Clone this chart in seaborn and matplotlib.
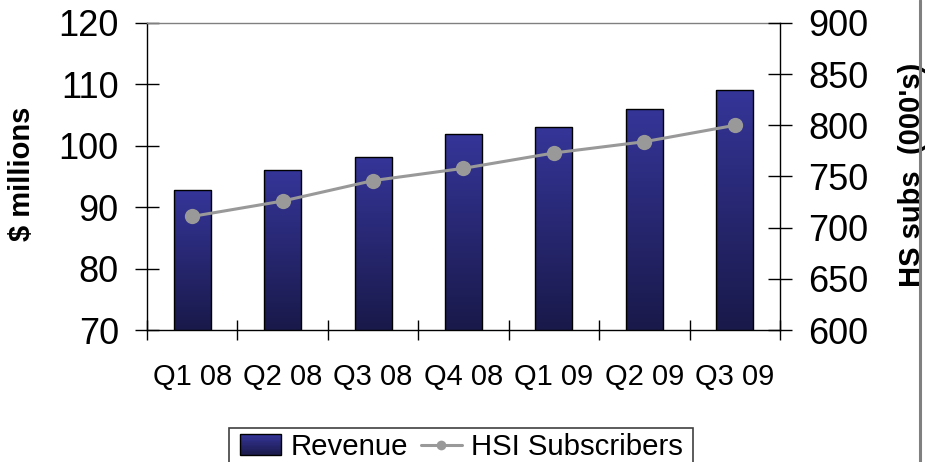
import numpy as np
import pandas as pd
import matplotlib
matplotlib.use("Agg")
import matplotlib.pyplot as plt
import seaborn as sns
from matplotlib.patches import Rectangle
from matplotlib.legend_handler import HandlerBase
from matplotlib.lines import Line2D
from matplotlib.colors import to_rgb

quarters = ["Q1 08", "Q2 08", "Q3 08", "Q4 08", "Q1 09", "Q2 09", "Q3 09"]
revenue = [92.8, 96.1, 98.2, 101.9, 103.0, 106.0, 109.1]
subscribers = [711, 726, 746, 758, 773, 784, 800]
left_ticks = [70, 80, 90, 100, 110, 120]
right_ticks = [600, 650, 700, 750, 800, 850, 900]

sns.set_style("white")
plt.rcParams["font.family"] = ["Liberation Sans", "DejaVu Sans"]
plt.rcParams["text.color"] = "black"
plt.rcParams["xtick.color"] = "black"
plt.rcParams["ytick.color"] = "black"

top_c = np.array(to_rgb("#353599"))
bot_c = np.array(to_rgb("#19194a"))

W, H = 928, 462
fig = plt.figure(figsize=(W / 100, H / 100), dpi=100)
ax = fig.add_axes([147 / W, 1 - 330 / H, (780 - 147) / W, (330 - 23) / H])

df = pd.DataFrame({"quarter": quarters, "revenue": revenue})
sns.barplot(data=df, x="quarter", y="revenue", ax=ax, width=0.41,
            color="#2a2a80", edgecolor="black", linewidth=1.0, saturation=1)

t = np.linspace(0, 1, 256)[:, None]
grad = (bot_c + (top_c - bot_c) * t)[:, None, :]
for p in list(ax.patches):
    x0, w, h = p.get_x(), p.get_width(), p.get_height()
    im = ax.imshow(grad, extent=[x0, x0 + w, left_ticks[0], h], origin="lower",
                   aspect="auto", zorder=1, interpolation="bilinear")
    im.set_clip_path(p)
    p.set_facecolor("none")
    p.set_zorder(2)

ax.set_xlim(-0.5, len(quarters) - 0.5)
ax.set_ylim(left_ticks[0], left_ticks[-1])
ax.set_xlabel("")
ax.set_ylabel("")
ax.set_xticks(np.arange(-0.5, len(quarters), 1))
ax.set_xticklabels([])
ax.set_xticks(np.arange(len(quarters)), minor=True)
ax.set_xticklabels(quarters, minor=True)
ax.tick_params(axis="x", which="major", bottom=True, direction="inout",
               length=14.4, width=1, labelbottom=False)
ax.tick_params(axis="x", which="minor", bottom=True, length=0, pad=24, labelsize=21)
ax.set_yticks(left_ticks)
ax.tick_params(axis="y", left=True, direction="inout", length=16.6, width=1,
               pad=12, labelsize=26)

ax2 = ax.twinx()
sns.lineplot(x=np.arange(len(quarters)), y=subscribers, ax=ax2, color="#999999",
             marker="o", markersize=11, markeredgewidth=0, linewidth=2.2, legend=False)
ax2.set_xlim(-0.5, len(quarters) - 0.5)
ax2.set_ylim(right_ticks[0], right_ticks[-1])
ax2.set_yticks(right_ticks)
ax2.set_ylabel("")
ax2.tick_params(axis="y", right=True, direction="inout", length=16.6, width=1,
                pad=12, labelsize=26)

for s in ["left", "bottom"]:
    ax.spines[s].set_color("black")
    ax.spines[s].set_linewidth(1.0)
ax.spines["top"].set_color("#808080")
ax.spines["top"].set_linewidth(1.0)
ax.spines["right"].set_visible(False)
for s in ["left", "bottom", "top"]:
    ax2.spines[s].set_visible(False)
ax2.spines["right"].set_color("black")
ax2.spines["right"].set_linewidth(1.0)

fig.text(22 / W, 1 - 174 / H, "$ millions", rotation=90, ha="center", va="center",
         fontsize=21, fontweight="bold")
fig.text(912 / W, 1 - 175 / H, "HS subs  (000's)", rotation=90, ha="center", va="center",
         fontsize=21, fontweight="bold")

fig.add_artist(Line2D([920 / W, 920 / W], [0, 1], transform=fig.transFigure,
                      color="#808080", linewidth=2.2, zorder=10))


class GradHandler(HandlerBase):
    def create_artists(self, legend, orig_handle, xdescent, ydescent, width, height,
                       fontsize, trans):
        arts = []
        n = 16
        for i in range(n):
            f = (i + 0.5) / n
            c = bot_c + (top_c - bot_c) * f
            arts.append(Rectangle((-xdescent, -ydescent + height * i / n), width,
                                  height / n * 1.05, facecolor=c, edgecolor="none",
                                  transform=trans))
        arts.append(Rectangle((-xdescent, -ydescent), width, height, facecolor="none",
                              edgecolor="black", linewidth=1, transform=trans))
        return arts


# legend frame (extends past the bottom edge, as in the reference)
fig.add_artist(Rectangle((229 / W, -20 / H), (693 - 229) / W, (462 - 428 + 20) / H,
                         transform=fig.transFigure, facecolor="white",
                         edgecolor="#404040", linewidth=1.2, zorder=5))

proxy = Rectangle((0, 0), 1, 1)
line_h = Line2D([], [], color="#999999", marker="o", markersize=7,
                markeredgewidth=0, linewidth=2.2)
leg = fig.legend(handles=[proxy, line_h], labels=["Revenue", "HSI Subscribers"],
                 handler_map={proxy: GradHandler()},
                 loc="upper left", bbox_to_anchor=(240 / W, 1 - 433 / H), ncol=2,
                 frameon=False, fontsize=21.2,
                 handlelength=1.38, handleheight=0.7, handletextpad=0.33,
                 columnspacing=0.45, borderpad=0, borderaxespad=0)
leg.set_zorder(6)

fig.savefig("out.png", dpi=100)
